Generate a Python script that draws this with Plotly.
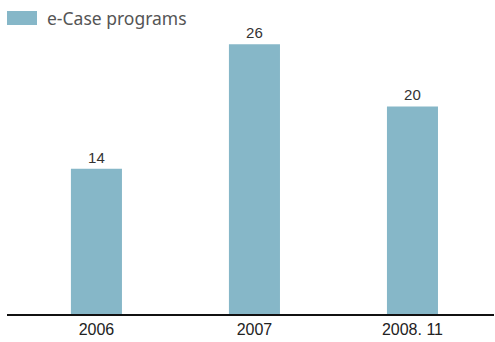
import plotly.graph_objects as go

years = ["2006", "2007", "2008. 11"]
programs = [14, 26, 20]
series_name = "e-Case programs"

bar_color = "#86b7c8"

fig = go.Figure()
fig.add_trace(
    go.Bar(
        x=years,
        y=programs,
        name=series_name,
        marker=dict(color=bar_color, line=dict(width=0)),
        width=0.323,
        text=[str(v) for v in programs],
        textposition="outside",
        textfont=dict(family="Liberation Sans", size=15, color="#333333"),
        cliponaxis=False,
        showlegend=False,
    )
)

# legend drawn by hand so the swatch matches the wide rectangle
fig.add_shape(
    type="rect", xref="paper", yref="paper",
    x0=0, x1=30 / 487, y0=1 + 15 / 274, y1=1 + 29 / 274,
    fillcolor=bar_color, line=dict(width=0),
)
fig.add_annotation(
    text=series_name, xref="paper", yref="paper",
    x=38 / 487, y=1 + 22 / 274, xanchor="left", yanchor="middle",
    showarrow=False,
    font=dict(family="Noto Sans", size=17.5, color="#555555"),
)

fig.update_layout(
    width=495,
    height=342,
    margin=dict(l=7, r=1, t=40, b=28),
    plot_bgcolor="white",
    paper_bgcolor="white",
)
fig.update_xaxes(
    range=[-0.566, 2.516],
    showline=True, linecolor="#111111", linewidth=1.5,
    ticks="", showgrid=False,
    tickfont=dict(family="Liberation Sans", size=16, color="#222222"),
)
fig.update_yaxes(
    range=[0, 26.4],
    showticklabels=False, showgrid=False, zeroline=False, showline=False,
)

fig.write_html(
    "out.html",
    config={"displayModeBar": False},
    post_script="document.body.style.margin='0';",
)
